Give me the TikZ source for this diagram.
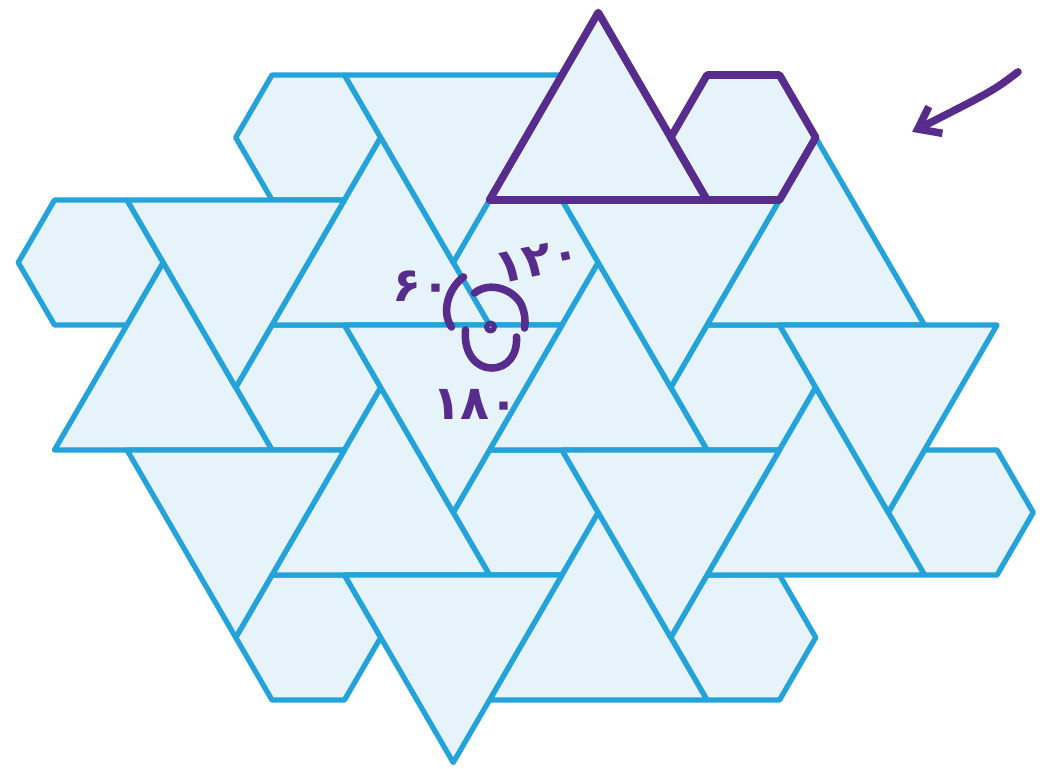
\documentclass[tikz,border=0pt]{standalone}
\usepackage{fontspec}
\usetikzlibrary{arrows.meta}
\newfontfamily\persianfont[Script=Arabic]{DejaVu Sans}
\definecolor{tileblue}{RGB}{35,163,217}
\definecolor{tilefill}{RGB}{230,243,250}
\definecolor{penpurple}{RGB}{88,44,140}
\tikzset{
  tile/.style={fill=tilefill, draw=tileblue, line width=3pt, line join=round},
  pen/.style={draw=penpurple, line width=4.3pt, line cap=round, line join=round},
  angnum/.style={text=penpurple, inner sep=0pt, font=\persianfont\bfseries\fontsize{27pt}{27pt}\selectfont},
}

\begin{document}
\begin{tikzpicture}[x=0.725cm, y=-1.25cm]
  \useasboundingbox (-7.503,-1.2) rectangle (21.269,11.088);
  % hexagons, by centre
  \foreach \cx/\cy in {1/1, -5/3, 13/1, 7/3, 1/5, 13/5, 7/7, 19/7, 1/9, 13/9}
    \draw[tile] ({\cx-2},\cy) -- ({\cx-1},{\cy-1}) -- ({\cx+1},{\cy-1}) -- ({\cx+2},\cy) -- ({\cx+1},{\cy+1}) -- ({\cx-1},{\cy+1}) -- cycle;
  % triangles pointing up, by top corner
  \foreach \cx/\cy in {-3/3, 3/1, 3/5, 9/-1, 9/3, 9/7, 15/1, 15/5}
    \draw[tile] (\cx,\cy) -- ({\cx+3},{\cy+3}) -- ({\cx-3},{\cy+3}) -- cycle;
  % triangles pointing down, by bottom corner
  \foreach \cx/\cy in {-1/5, -1/9, 5/3, 5/7, 5/11, 11/5, 11/9, 17/7}
    \draw[tile] (\cx,\cy) -- ({\cx+3},{\cy-3}) -- ({\cx-3},{\cy-3}) -- cycle;

  % marked triangle and hexagon
  \draw[pen] (9,-1) -- (12,2) -- (6,2) -- cycle;
  \draw[pen] (11,1) -- (12,0) -- (14,0) -- (15,1) -- (14,2) -- (12,2) -- cycle;

  % angles round one corner
  \coordinate (corner) at (6,4);
  \begin{scope}[shift={(corner)}, x=0.02cm, y=-0.02cm]
    \draw[pen] (-26,-48) .. controls (-42,-36) and (-48,-12) .. (-38,2);
    \draw[pen] (-15,-32) .. controls (0,-44) and (24,-36) .. (32,-20) .. controls (36,-10) and (36,-3) .. (35,3);
    \draw[pen] (-24,5) .. controls (-26,30) and (-12,43) .. (2,43) .. controls (18,43) and (28,30) .. (27,12);
    \draw[pen, line width=2.9pt] (1,2) circle (4);
    \node[angnum] (lab60) at (-68,-39) {۶۰};
    \node[angnum, rotate=12] (lab120) at (48,-64) {۱۲۰};
    \node[angnum] (lab180) at (-14,79) {۱۸۰};
  \end{scope}

  \coordinate (arrowtail) at (20.58,-0.05);
  \coordinate (arrowtip) at (17.66,0.91);
  \draw[pen, -{Straight Barb[length=0.4cm, width=0.6cm]}] (arrowtail) .. controls (19.9,0.25) .. (arrowtip);
\end{tikzpicture}
\end{document}
